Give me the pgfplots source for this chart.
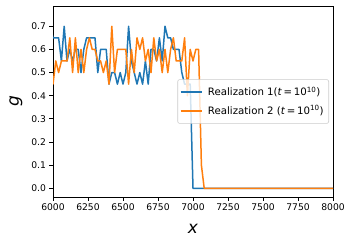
\documentclass[border=0pt]{standalone}
\usepackage{fontspec}
\setmainfont{DejaVu Sans}
\usepackage{pgfplots}
\pgfplotsset{compat=1.18}
\definecolor{tabblue}{HTML}{1F77B4}
\definecolor{taborange}{HTML}{FF7F0E}
\begin{document}
\begin{tikzpicture}
\begin{axis}[
  scale only axis, width=280pt, height=191pt,
  xmin=6000, xmax=8000, ymin=-0.0375, ymax=0.7875,
  xtick={6000,6250,6500,6750,7000,7250,7500,7750,8000},
  ytick={0,0.1,0.2,0.3,0.4,0.5,0.6,0.7},
  tick align=outside, tick pos=left, major tick length=3.5pt,
  axis line style={line width=0.8pt},
  every tick/.style={black, line width=0.8pt},
  ticklabel style={font=\fontsize{9.2}{11}\selectfont},
  /pgf/number format/assume math mode=true,
  yticklabel style={/pgf/number format/.cd, fixed, fixed zerofill, precision=1},
  xticklabel style={/pgf/number format/.cd, 1000 sep={}},
  xlabel={\textit{x}}, ylabel={\textit{g}},
  xlabel style={at={(axis description cs:0.5,-0.19)}, anchor=base, font=\fontsize{17}{20}\selectfont, inner sep=0pt},
  ylabel style={at={(axis description cs:-0.1218,0.5)}, anchor=base, font=\fontsize{17}{20}\selectfont, inner sep=0pt},
  clip=true,
  legend cell align=left,
  legend image code/.code={\draw[#1, line width=1.6pt] (0pt,0pt) -- (21.7pt,0pt); \path (23.7pt,0pt);},
  legend style={at={(axis description cs:1,0.5)}, anchor=east, xshift=-4pt,
    draw=black!20, line width=0.6pt, rounded corners=2pt, fill=white, fill opacity=0.8, text opacity=1, draw opacity=1,
    font=\fontsize{10.2}{12}\selectfont, inner xsep=2pt, inner ysep=5.5pt, row sep=4pt,
    nodes={inner xsep=3pt, inner ysep=2pt}},
]
\addplot[tabblue, line width=1.5pt, line join=round] coordinates {
(5980,0.70) (6000,0.65) (6020,0.65) (6040,0.65) (6060,0.55) (6080,0.70) (6100,0.55)
(6120,0.60) (6140,0.55) (6160,0.60) (6180,0.60) (6200,0.50) (6220,0.60)
(6240,0.65) (6260,0.65) (6280,0.65) (6300,0.65) (6320,0.50) (6340,0.60)
(6360,0.60) (6380,0.60) (6400,0.45) (6420,0.50) (6440,0.50) (6460,0.45)
(6480,0.50) (6500,0.45) (6520,0.50) (6540,0.70) (6560,0.55) (6580,0.50)
(6600,0.45) (6620,0.50) (6640,0.45) (6660,0.55) (6680,0.45) (6700,0.60)
(6720,0.60) (6740,0.55) (6760,0.65) (6780,0.55) (6800,0.70) (6820,0.65)
(6840,0.65) (6860,0.60) (6880,0.60) (6900,0.60) (6920,0.50) (6940,0.45)
(6960,0.45) (6980,0.45) (7000,0.00) (8000,0.00)
};
\addlegendentry{Realization 1(\textit{t}\,=\,10\textsuperscript{10})}
\addplot[taborange, line width=1.5pt, line join=round] coordinates {
(5980,0.50) (6000,0.45) (6020,0.55) (6040,0.50) (6060,0.55) (6080,0.55) (6100,0.55)
(6120,0.65) (6140,0.50) (6160,0.65) (6180,0.50) (6200,0.60) (6220,0.50)
(6240,0.60) (6260,0.65) (6280,0.60) (6300,0.60) (6320,0.55) (6340,0.55)
(6360,0.50) (6380,0.55) (6400,0.45) (6420,0.70) (6440,0.50) (6460,0.60)
(6480,0.60) (6500,0.60) (6520,0.60) (6540,0.45) (6560,0.60) (6580,0.50)
(6600,0.65) (6620,0.60) (6640,0.65) (6660,0.55) (6680,0.60) (6700,0.50)
(6720,0.65) (6740,0.55) (6760,0.60) (6780,0.50) (6800,0.60) (6820,0.50)
(6840,0.60) (6860,0.65) (6880,0.55) (6900,0.55) (6920,0.55) (6940,0.65)
(6960,0.40) (6980,0.60) (7000,0.55) (7020,0.60) (7040,0.60) (7060,0.10)
(7080,0.00) (8000,0.00)
};
\addlegendentry{Realization 2 (\textit{t}\,=\,10\textsuperscript{10})}
\end{axis}
\pgfresetboundingbox
\path ([xshift=-53pt,yshift=-47pt]current axis.south west) rectangle ([xshift=19pt,yshift=6pt]current axis.north east);
\end{tikzpicture}
\end{document}
